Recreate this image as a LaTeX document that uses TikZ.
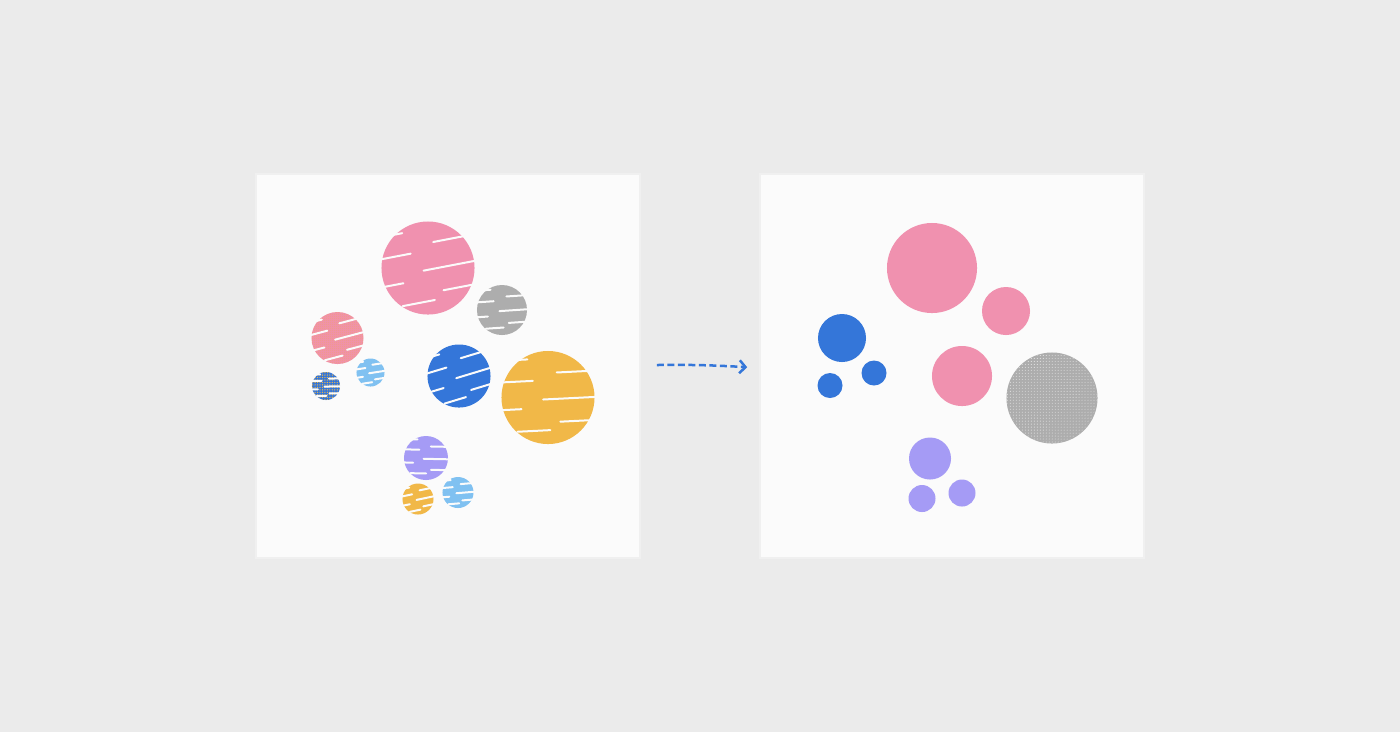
\documentclass[tikz,border=0pt]{standalone}
\usetikzlibrary{positioning, calc, arrows.meta, patterns.meta}
\definecolor{canvas}{HTML}{EBEBEB}
\definecolor{panelbg}{HTML}{FBFBFB}
\definecolor{ballpink}{HTML}{F091AF}
\definecolor{ballgray}{HTML}{ADADAD}
\definecolor{ballblue}{HTML}{3476D9}
\definecolor{balllight}{HTML}{80C1F1}
\definecolor{ballyellow}{HTML}{F1B848}
\definecolor{ballpurple}{HTML}{A59BF5}
\definecolor{ballcoral}{HTML}{F092AA}

% white scribble streaks over a sketched ball: #1 node, #2 radius (px), #3 tilt
\newcommand{\scribble}[3]{%
  \begin{scope}
    \clip (#1.center) circle[radius=#2+2];
    \begin{scope}[rotate around={#3:(#1.center)}]
      \foreach \dx/\dy/\len in {-1.05/-0.72/0.55, 0.15/-0.55/0.85,
        -1.05/-0.25/0.7, -0.1/0.05/1.1, -1.05/0.35/0.5,
        0.3/0.5/0.75, -0.6/0.78/0.7}
        \draw[streak] ($(#1.center)+(\dx*#2,\dy*#2)$) -- ++(\len*#2,-0.12*\len*#2);
    \end{scope}
  \end{scope}}

\begin{document}
\begin{tikzpicture}[x=0.01cm, y=-0.01cm,
    panel/.style={rectangle, 
      fill=panelbg, 
      draw=canvas!70!panelbg, 
      minimum size=3.84cm, 
      inner sep=0},
    ball/.style={circle, inner sep=0, fill=#1},
    streak/.style={draw=panelbg, line width=0.02cm, line cap=round},
    flow/.style={draw=ballblue, 
      line width=0.025cm, 
      dash pattern=on 0.07cm off 0.035cm, 
      -{Straight Barb[length=0.06cm, width=0.13cm]}}]

  \fill[canvas] (0,0) rectangle (1400,732);

  % PANELS

  \node[panel] (before) at (448,366) {};
  \node[panel] (after) at (952,366) {};

  % SKETCHED BALLS

  \node[ball=ballpink, minimum size=0.93cm] (lpinkbig) at (428,268) {};
  \node[ball=ballgray, minimum size=0.50cm] (lgray) at (502,310) {};
  \node[ball=ballcoral, minimum size=0.52cm] (lcoral) at (337.5,338) {};
  \node[ball=balllight, minimum size=0.28cm] (llight) at (370.5,372.5) {};
  \node[ball=ballblue, minimum size=0.28cm] (lbluesmall) at (326,386) {};
  \node[ball=ballblue, minimum size=0.63cm] (lblue) at (459,376) {};
  \node[ball=ballyellow, minimum size=0.93cm] (lyellow) at (548,397.5) {};
  \node[ball=ballpurple, minimum size=0.44cm] (lpurple) at (426,458) {};
  \node[ball=ballyellow, minimum size=0.31cm] (lyellowsmall) at (418,499) {};
  \node[ball=balllight, minimum size=0.31cm] (llightsmall) at (458,492.5) {};

  \fill[pattern={Dots[distance=0.62pt, radius=0.12pt]}, pattern color=ballyellow!85!orange]
    (lcoral.center) circle[radius=26];
  \fill[pattern={Dots[distance=0.7pt, radius=0.2pt]}, pattern color=ballyellow]
    (lbluesmall.center) circle[radius=14];

  \scribble{lpinkbig}{46.5}{4}
  \scribble{lgray}{25}{-3}
  \scribble{lcoral}{26}{8}
  \scribble{llight}{14}{2}
  \scribble{lbluesmall}{14}{-6}
  \scribble{lblue}{31.5}{10}
  \scribble{lyellow}{46.5}{-4}
  \scribble{lpurple}{22}{-8}
  \scribble{lyellowsmall}{15.5}{5}
  \scribble{llightsmall}{15.5}{-2}

  % CLEAN BALLS

  \node[ball=ballpink, minimum size=0.90cm] (rpinkbig) at (932,268) {};
  \node[ball=ballpink, minimum size=0.48cm] (rpink) at (1006,311) {};
  \node[ball=ballpink, minimum size=0.60cm] (rpinkmid) at (962,376) {};
  \node[ball=ballblue, minimum size=0.48cm] (rblue) at (842,338) {};
  \node[ball=ballblue, minimum size=0.25cm] (rblueleft) at (830,385.5) {};
  \node[ball=ballblue, minimum size=0.25cm] (rblueright) at (874,373) {};
  \node[ball=ballgray, minimum size=0.91cm] (rgray) at (1052,398) {};
  \node[ball=ballpurple, minimum size=0.42cm] (rpurple) at (930,458.5) {};
  \node[ball=ballpurple, minimum size=0.27cm] (rpurpleleft) at (922,498.5) {};
  \node[ball=ballpurple, minimum size=0.27cm] (rpurpleright) at (962,493) {};

  \fill[pattern={Dots[distance=0.85pt, radius=0.12pt]}, pattern color=white]
    (rgray.center) circle[radius=45];

  % ARROW

  \draw[flow] ([xshift=0.16cm, yshift=0.01cm]before.east) 
    to[bend left=2] ([xshift=-0.12cm, yshift=-0.012cm]after.west);

\end{tikzpicture}
\end{document}
